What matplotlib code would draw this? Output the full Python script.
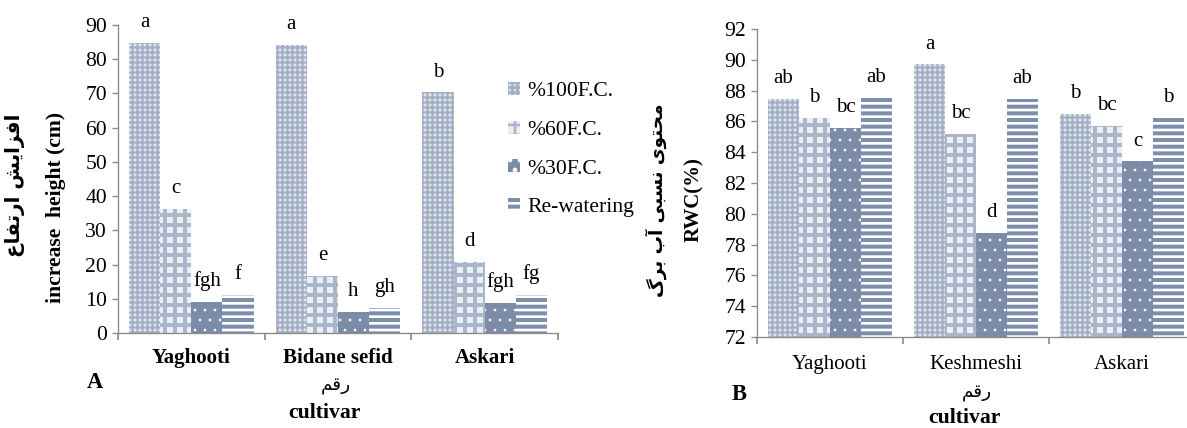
import numpy as np
import matplotlib.pyplot as plt

plt.rcParams['font.family'] = ['Liberation Serif', 'DejaVu Sans']
plt.rcParams['hatch.linewidth'] = 1.6

treatments = ['%100F.C.', '%60F.C.', '%30F.C.', 'Re-watering']

# panel A: height increase (cm)
cult_a = ['Yaghooti', 'Bidane sefid', 'Askari']
height_100 = [84.8, 84.2, 70.3]
height_60 = [36.3, 16.6, 20.8]
height_30 = [9.1, 6.2, 8.8]
height_rw = [11.1, 7.3, 11.1]
letters_a = [['a', 'a', 'b'], ['c', 'e', 'd'], ['fgh', 'h', 'fgh'], ['f', 'gh', 'fg']]

# panel B: relative water content (%)
cult_b = ['Yaghooti', 'Keshmeshi', 'Askari']
rwc_100 = [87.45, 89.7, 86.5]
rwc_60 = [86.2, 85.2, 85.7]
rwc_30 = [85.55, 78.75, 83.4]
rwc_rw = [87.5, 87.45, 86.2]
letters_b = [['ab', 'a', 'b'], ['b', 'bc', 'bc'], ['bc', 'd', 'c'], ['ab', 'ab', 'b']]

styles = [
    dict(facecolor='#dfe3eb', edgecolor='#a3afc5', hatch='++++', hatch_linewidth=1.2),
    dict(facecolor='#eceff4', edgecolor='#aab6ca', hatch='++', hatch_linewidth=2.4),
    dict(facecolor='#7b8ba8', edgecolor='white', hatch='..', hatch_linewidth=0.4),
    dict(facecolor='#7d8fad', edgecolor='white', hatch='---', hatch_linewidth=1.6),
]

# Persian text written in presentation forms (visual order)
fa_height = '\uFEC9\uFE8E\uFED4\uFE97\uFEAD\uFE8D \uFEB6\uFEF3\uFE8D\uFEB0\uFED3\uFE8D'
fa_cultivar = '\uFEE2\uFED7\uFEAD'
fa_rwc = ('\uFB92\uFEAE\uFE91 \uFE8F\uFE81 \uFBFD\uFE92\uFEB4\uFEE7 '
          '\uFBFC\uFEEE\uFE98\uFEA4\uFEE3')

W, H = 1187, 428
fig = plt.figure(figsize=(W / 120, H / 120), dpi=120)
gray = '#8a8a8a'


def draw_panel(ax, cultivars, series, letters, ylim, yticks, bold_x):
    x = np.arange(len(cultivars))
    w = 0.212
    for i, vals in enumerate(series):
        pos = x + (i - 1.5) * w
        ax.bar(pos, vals, width=w, linewidth=0, label=treatments[i], **styles[i])
        for p, v, lab in zip(pos, vals, letters[i]):
            ax.annotate(lab, (p, v), xytext=(0, 9.5), textcoords='offset points',
                        ha='center', va='baseline', fontsize=12.5)
    ax.set_ylim(*ylim)
    ax.set_yticks(yticks)
    ax.set_xlim(-0.5, len(cultivars) - 0.5)
    ax.set_xticks(x)
    ax.set_xticklabels(cultivars, fontsize=12.5,
                       fontweight='bold' if bold_x else 'normal')
    ax.set_xticks(np.arange(len(cultivars) + 1) - 0.5, minor=True)
    ax.tick_params(axis='x', which='major', length=0, pad=9 if bold_x else 11)
    ax.tick_params(axis='x', which='minor', length=4, color=gray, width=1)
    ax.tick_params(axis='y', labelsize=13, length=3.5, color=gray, pad=3)
    for s in ['top', 'right']:
        ax.spines[s].set_visible(False)
    for s in ['left', 'bottom']:
        ax.spines[s].set_color(gray)


ax1 = fig.add_axes([118 / W, 1 - 333 / H, 440 / W, 308 / H])
draw_panel(ax1, cult_a, [height_100, height_60, height_30, height_rw], letters_a,
           (0, 90), range(0, 91, 10), True)

ax2 = fig.add_axes([757 / W, 1 - 337 / H, 438 / W, 308 / H])
draw_panel(ax2, cult_b, [rwc_100, rwc_60, rwc_30, rwc_rw], letters_b,
           (72, 92), range(72, 93, 2), False)

ax1.legend(loc='upper left', bbox_to_anchor=(508 / W, 1 - 82 / H),
           bbox_transform=fig.transFigure, frameon=False, fontsize=13,
           handlelength=0.55, handleheight=0.55, handletextpad=0.35,
           labelspacing=0.9, borderpad=0, borderaxespad=0)

# axis titles
fig.text(15 / W, 1 - 185 / H, fa_height, rotation=90, ha='center', va='center',
         fontsize=12, fontweight='bold', family='DejaVu Sans')
fig.text(56 / W, 1 - 207 / H, 'increase  height (cm)', rotation=90, ha='center',
         va='center', fontsize=13, fontweight='bold')
fig.text(656 / W, 1 - 200 / H, fa_rwc, rotation=90, ha='center', va='center',
         fontsize=11, fontweight='bold', family='DejaVu Sans')
fig.text(694 / W, 1 - 200 / H, 'RWC(%)', rotation=90, ha='center', va='center',
         fontsize=12.5, fontweight='bold')

fig.text(95 / W, 1 - 383 / H, 'A', ha='center', va='center', fontsize=13.5,
         fontweight='bold')
fig.text(336 / W, 1 - 386 / H, fa_cultivar, ha='center', va='center', fontsize=11,
         family='DejaVu Sans')
fig.text(324 / W, 1 - 413 / H, 'cultivar', ha='center', va='center', fontsize=13,
         fontweight='bold')

fig.text(739 / W, 1 - 394 / H, 'B', ha='center', va='center', fontsize=13.5,
         fontweight='bold')
fig.text(977 / W, 1 - 393 / H, fa_cultivar, ha='center', va='center', fontsize=11,
         family='DejaVu Sans')
fig.text(964 / W, 1 - 418 / H, 'cultivar', ha='center', va='center', fontsize=13,
         fontweight='bold')

fig.savefig('out.png', dpi=120)
